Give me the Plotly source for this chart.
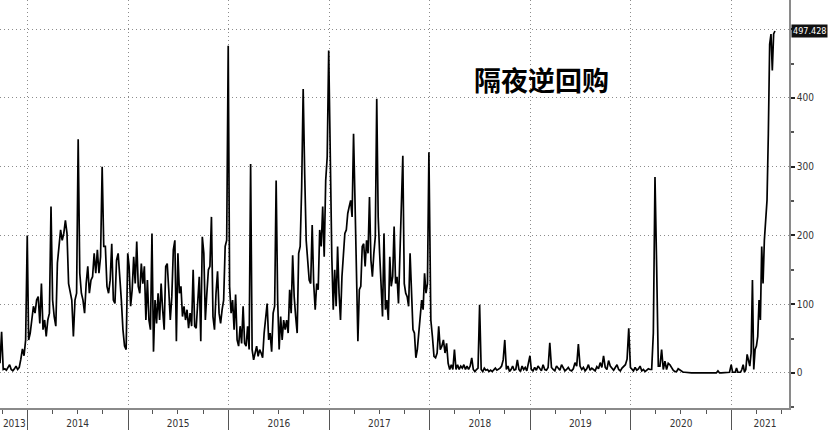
import pandas as pd
import plotly.graph_objects as go

# ---- data (USD bn) ----
v2013 = [14, 60, 5, 6, 4, 8, 12, 5, 3, 6, 10, 5, 8, 20, 35, 25, 48, 200]
v2014 = [48, 58, 77, 97, 87, 106, 111, 72, 130, 63, 77, 53, 77, 87, 242, 106, 82, 68, 160, 184,
         208, 193, 203, 222, 203, 130, 116, 106, 53, 106, 116, 340, 145, 116, 106, 87, 130, 155,
         116, 135, 140, 174, 145, 179, 145, 169, 300, 184, 184, 126, 116, 135, 188, 106, 101, 164,
         174, 145, 106, 63, 39, 34, 174]
v2015 = [155, 97, 121, 169, 130, 191, 126, 116, 159, 130, 155, 77, 135, 77, 63, 203, 31, 106, 72,
         116, 77, 130, 92, 63, 155, 159, 121, 77, 111, 179, 193, 46, 174, 116, 126, 82, 97, 77, 92,
         65, 87, 68, 150, 68, 65, 106, 140, 46, 198, 174, 77, 116, 150, 155, 227, 82, 63, 116, 148,
         87, 72, 92, 106, 184, 193, 476]
v2016 = [126, 87, 106, 63, 114, 48, 39, 68, 43, 97, 43, 39, 68, 34, 304, 34, 19, 29, 39, 24, 34,
         29, 22, 58, 77, 101, 48, 58, 31, 87, 97, 280, 106, 34, 82, 48, 77, 63, 77, 58, 121, 87, 171,
         111, 82, 58, 174, 184, 270, 413, 290, 193, 164, 135, 130, 215, 130, 92, 130, 121, 208, 184,
         242, 169, 280, 314, 469]
v2017 = [280, 169, 92, 150, 97, 184, 116, 77, 140, 179, 203, 208, 232, 242, 251, 227, 348, 251,
         121, 46, 121, 126, 184, 188, 155, 193, 174, 256, 164, 140, 174, 198, 399, 227, 174, 130, 82,
         203, 92, 106, 77, 169, 126, 140, 213, 130, 140, 101, 169, 222, 316, 130, 116, 111, 97, 174,
         121, 63, 58, 22, 34, 58, 82, 106, 92, 145, 116, 130, 321]
v2018 = [77, 53, 24, 22, 29, 68, 34, 39, 48, 29, 43, 14, 5, 12, 5, 34, 5, 12, 5, 10, 7, 12, 5, 10,
         5, 10, 22, 5, 2, 5, 7, 99, 5, 2, 7, 4, 5, 2, 4, 2, 5, 7, 4, 5, 7, 10, 19, 48, 5, 10, 2, 5,
         10, 4, 5, 19, 5, 2, 10, 5, 8, 3, 12, 25]
v2019 = [5, 3, 8, 4, 10, 6, 3, 12, 5, 4, 8, 44, 8, 5, 3, 10, 6, 4, 12, 7, 3, 5, 8, 4, 3, 6, 15, 10,
         42, 10, 5, 8, 3, 6, 12, 4, 7, 5, 3, 9, 6, 15, 8, 25, 8, 5, 18, 10, 6, 4, 8, 12, 5, 3, 7, 10,
         12, 20, 65, 8]
v2020 = [5, 3, 8, 4, 6, 10, 3, 5, 2, 4, 6, 5, 5, 58, 285, 155, 10, 10, 34, 5, 17, 5, 14, 12, 7, 4,
         2, 2, 6, 4, 2, 1, 1, 0.5, 0, 0, 0, 0.2, 0, 0, 0, 0, 0, 0, 0.1, 0, 0, 0, 0, 0, 0, 0, 3, 0, 0,
         0, 0.5, 0, 0, 1, 12]
v2021 = [1, 1, 1, 7, 1, 1, 1, 5, 12, 1, 5, 27, 19, 10, 29, 135, 5, 34, 39, 53, 106, 77, 184, 130,
         193, 232, 251, 348, 478, 493, 440, 493, 497.428]

segments = [
    ("2013-09-23", "2013-12-31", v2013),
    ("2014-01-05", "2014-12-31", v2014),
    ("2015-01-05", "2015-12-31", v2015),
    ("2016-01-05", "2016-12-30", v2016),
    ("2017-01-05", "2017-12-29", v2017),
    ("2018-01-05", "2018-12-31", v2018),
    ("2019-01-05", "2019-12-31", v2019),
    ("2020-01-05", "2020-12-31", v2020),
    ("2021-01-05", "2021-06-08", v2021),
]

year_labels = ["2013", "2014", "2015", "2016", "2017", "2018", "2019", "2020", "2021"]
year_label_pos = ["2013-11-14", "2014-07-02", "2015-07-02", "2016-07-02", "2017-07-02",
                  "2018-07-02", "2019-07-02", "2020-07-02", "2021-05-03"]
y_ticks = [0, 100, 200, 300, 400, 500]
y_ticktext = ["0", "100", "200", "300", "400", ""]
last_value = v2021[-1]
title_text = "隔夜逆回购"

dates, values = [], []
for start, end, vals in segments:
    dates.extend(pd.date_range(start, end, periods=len(vals)))
    values.extend(vals)

x_range = ["2013-09-23", "2021-07-29"]
grid = "#8c8c8c"
grid_dash = "1px,3px"
axis_line = "#8a8a8a"
lab_font = dict(family="Liberation Sans Narrow, DejaVu Sans Condensed, Arial Narrow, sans-serif",
                size=10, color="#333333")

fig = go.Figure()
fig.add_trace(go.Scatter(x=dates, y=values, mode="lines",
                         line=dict(color="black", width=1.7), showlegend=False,
                         hoverinfo="skip"))
fig.add_trace(go.Scatter(x=[], y=[], xaxis="x2", showlegend=False))

fig.update_layout(
    width=830, height=430,
    margin=dict(l=0, r=41, t=0, b=22),
    paper_bgcolor="white", plot_bgcolor="white",
    xaxis=dict(
        type="date", range=x_range,
        tick0="2014-01-01", dtick="M12",
        ticks="outside", ticklen=22, tickwidth=1, tickcolor="#555555",
        showticklabels=False,
        showgrid=True, gridcolor=grid, griddash=grid_dash, gridwidth=1,
        showline=True, linecolor=axis_line, linewidth=1.5,
        zeroline=False,
        minor=dict(tick0="2014-01-01", dtick="M3", ticks="outside", ticklen=4,
                   tickcolor="#555555", showgrid=False),
    ),
    xaxis2=dict(
        type="date", range=x_range, overlaying="x", side="bottom", anchor="y",
        tickmode="array", tickvals=year_label_pos, ticktext=year_labels,
        ticks="outside", ticklen=6, tickcolor="rgba(0,0,0,0)",
        tickfont=lab_font, showgrid=False, showline=False, zeroline=False,
    ),
    yaxis=dict(
        side="right", range=[-51, 542.5],
        tickmode="array", tickvals=y_ticks, ticktext=y_ticktext,
        ticks="outside", ticklen=4, tickwidth=2, tickcolor="#222222",
        tickfont=lab_font,
        showgrid=True, gridcolor=grid, griddash=grid_dash, gridwidth=1,
        showline=True, linecolor=axis_line, linewidth=1.5,
        zeroline=False,
        minor=dict(dtick=50, tick0=0, ticks="outside", ticklen=3,
                   tickcolor="#555555", showgrid=False),
    ),
    annotations=[
        dict(xref="paper", yref="y", x=1, y=last_value, xanchor="left", yanchor="middle",
             xshift=2, text=f"{last_value:.3f}", showarrow=False,
             font=dict(family="Liberation Sans Narrow, DejaVu Sans Condensed, sans-serif",
                       size=9, color="white"),
             bgcolor="#111111", borderpad=1),
        dict(xref="paper", yref="paper", x=0.686, y=0.804, xanchor="center", yanchor="middle",
             text=f"<b>{title_text}</b>", showarrow=False,
             font=dict(family="Noto Sans CJK SC", size=27, color="black")),
    ],
)

fig.write_html("out.html", config={"displayModeBar": False},
               post_script="document.body.style.margin='0';document.body.style.overflow='hidden';")
